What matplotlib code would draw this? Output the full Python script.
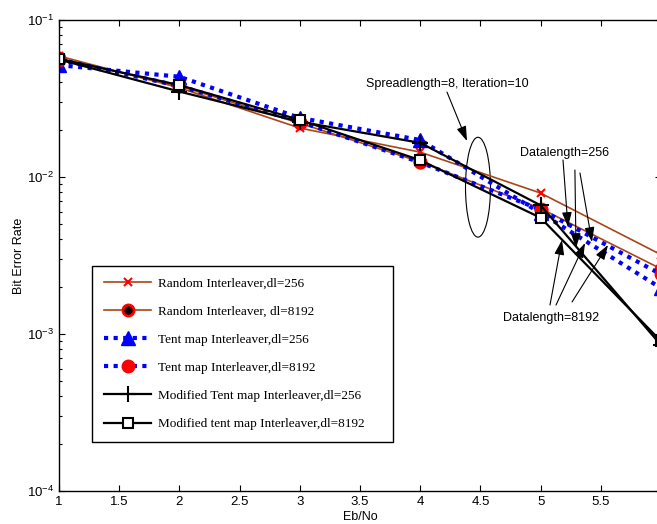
import matplotlib
matplotlib.use("Agg")
import matplotlib.pyplot as plt
from matplotlib.patches import Ellipse
from matplotlib.ticker import LogLocator, NullFormatter

# ---- data ----
ebno = [1, 2, 3, 4, 5, 6]
random_256 = [0.059, 0.037, 0.0205, 0.0144, 0.0079, 0.0032]
random_8192 = [0.057, 0.038, 0.0220, 0.0125, 0.0063, 0.0026]
tent_256 = [0.0516, 0.0435, 0.0238, 0.0172, 0.0059, 0.00196]
tent_8192 = [0.056, 0.038, 0.0225, 0.0124, 0.0062, 0.0024]
mod_256 = [0.056, 0.035, 0.0225, 0.0165, 0.0066, 0.00085]
mod_8192 = [0.0565, 0.0385, 0.0231, 0.0128, 0.0055, 0.0009]
labels = ["Random Interleaver,dl=256", "Random Interleaver, dl=8192",
          "Tent map Interleaver,dl=256", "Tent map Interleaver,dl=8192",
          "Modified Tent map Interleaver,dl=256", "Modified tent map Interleaver,dl=8192"]
xticks = [1, 1.5, 2, 2.5, 3, 3.5, 4, 4.5, 5, 5.5, 6]
xticklabels = ['1', '1.5', '2', '2.5', '3', '3.5', '4', '4.5', '5', '5.5', '']

plt.rcParams['font.family'] = ['Liberation Sans', 'DejaVu Sans']
plt.rcParams['mathtext.fontset'] = 'custom'
plt.rcParams['mathtext.rm'] = 'Liberation Sans'
plt.rcParams['mathtext.it'] = 'Liberation Sans:italic'

fig = plt.figure(figsize=(6.57, 5.24), dpi=100)
ax = fig.add_axes([59/657, 33/524, 602/657, 471/524])

brown = '#A8461A'
ax.plot(ebno, random_256, color=brown, lw=1.2, marker='x', ms=6, mec='red', mew=1.5, label=labels[0])
ax.plot(ebno, random_8192, color=brown, lw=1.2, marker='o', ms=8, mec='red', mfc='black', mew=2, label=labels[1])
ax.plot(ebno, tent_256, color='blue', lw=3, ls=(0, (1, 1.3)), marker='^', ms=10, mec='blue', mfc='blue', label=labels[2])
ax.plot(ebno, tent_8192, color='blue', lw=3, ls=(0, (1, 1.3)), marker='o', ms=9, mec='red', mfc='red', label=labels[3])
ax.plot(ebno, mod_256, color='black', lw=1.6, marker='+', ms=11, mew=1.5, label=labels[4])
ax.plot(ebno, mod_8192, color='black', lw=1.6, marker='s', ms=7.5, mfc='white', mec='black', mew=1.5, label=labels[5])

ax.set_yscale('log')
ax.set_xlim(1, 6)
ax.set_ylim(1e-4, 1e-1)
ax.set_xticks(xticks)
ax.set_xticklabels(xticklabels)
ax.yaxis.set_major_locator(LogLocator(base=10, numticks=10))
ax.yaxis.set_minor_locator(LogLocator(base=10, subs=range(2, 10), numticks=10))
ax.yaxis.set_minor_formatter(NullFormatter())
ax.tick_params(which='both', direction='in', top=True, right=True, labelsize=9.5, width=0.8)
ax.tick_params(which='major', length=4)
ax.tick_params(which='minor', length=2.5)
for s in ax.spines.values():
    s.set_linewidth(1.0)

ax.set_xlabel('Eb/No', fontsize=9, labelpad=2)
ax.set_ylabel('Bit Error Rate', fontsize=9, labelpad=1.5)

leg = ax.legend(loc='lower left', bbox_to_anchor=(0.0548, 0.104, 0.5, 0.37), mode='expand',
                fancybox=False, edgecolor='black', framealpha=1,
                prop={'family': 'Liberation Serif', 'size': 9.5},
                handlelength=3.6, labelspacing=1.2, borderpad=0.9, handletextpad=0.5,
                borderaxespad=0)
leg.get_frame().set_linewidth(1.0)

# annotations (axes fraction)
arrow = dict(arrowstyle='-|>,head_length=0.9,head_width=0.3', color='black', lw=0.8, shrinkA=0, shrinkB=0)
ax.text(0.6445, 0.864, 'Spreadlength=8, Iteration=10', transform=ax.transAxes, ha='center', va='center', fontsize=9)
ax.annotate('', xy=(0.6777, 0.743), xytext=(0.6445, 0.847), xycoords='axes fraction', arrowprops=arrow)
ax.add_patch(Ellipse((0.696, 0.645), 0.0415, 0.212, transform=ax.transAxes, fill=False, ec='black', lw=0.8))

ax.text(0.8405, 0.7176, 'Datalength=256', transform=ax.transAxes, ha='center', va='center', fontsize=9)
for tail, head in [((0.8372, 0.7028), (0.8455, 0.5605)),
                   ((0.857, 0.6815), (0.8588, 0.5159)),
                   ((0.8654, 0.6752), (0.8854, 0.5287))]:
    ax.annotate('', xy=head, xytext=tail, xycoords='axes fraction', arrowprops=arrow)

ax.text(0.8181, 0.3673, 'Datalength=8192', transform=ax.transAxes, ha='center', va='center', fontsize=9)
for tail, head in [((0.8156, 0.3949), (0.8355, 0.5329)),
                   ((0.8256, 0.3949), (0.8738, 0.5265)),
                   ((0.8522, 0.4013), (0.912, 0.5223))]:
    ax.annotate('', xy=head, xytext=tail, xycoords='axes fraction', arrowprops=arrow)

fig.savefig('out.png', dpi=100)
